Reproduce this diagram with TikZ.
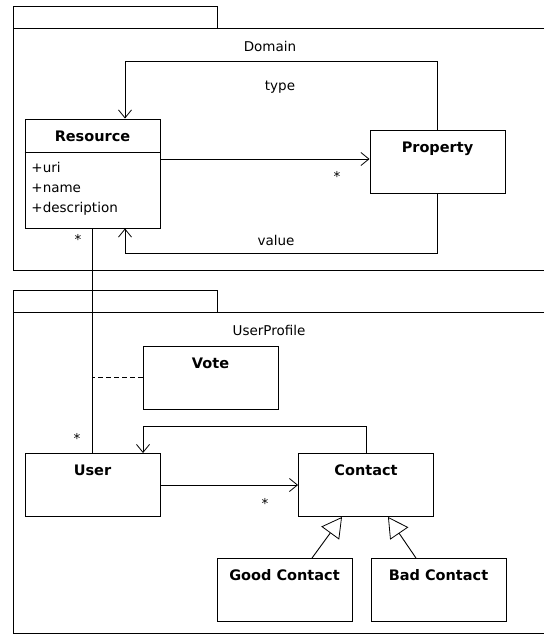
\documentclass[tikz,border=0pt]{standalone}
\usepackage{fontspec}
\setmainfont{DejaVu Sans}
\usetikzlibrary{arrows.meta}
\begin{document}
\begin{tikzpicture}[x=1pt, y=-1pt, line width=.9pt,
    >={Straight Barb[length=8pt, width=13pt, line width=.8pt]},
    txt/.style={font=\fontsize{13.5}{16}\selectfont, inner sep=0pt},
    cls/.style={draw, minimum width=135pt, minimum height=63pt, inner sep=0pt,
        label={[anchor=base, yshift=-22.5pt, font=\bfseries\fontsize{14.5}{17}\selectfont]north:#1}},
    isa/.style={-{Triangle[open, length=20pt, width=22pt, line width=.8pt]}}]
\useasboundingbox (0,0) rectangle (544,635);

% packages
\draw (13,28) |- (217,6) -- (217,28);
\draw (544,28) -- (13,28) -- (13,270) -- (544,270);
\node[txt] (domain) at (270,46) {Domain};
\draw (13,312) |- (217,290) -- (217,312);
\draw (544,312) -- (13,312) -- (13,633) -- (544,633);
\node[txt] (userprofile) at (269,330) {UserProfile};

% Domain classes
\node[cls=Resource, minimum height=109pt] (resource) at (92.5,173.5) {};
\draw ([yshift=-34pt]resource.north west) -- ([yshift=-34pt]resource.north east);
\node[txt, anchor=north west, align=left, font=\fontsize{13.5}{20}\selectfont] (attrs) at (31,162)
    {+uri\\+name\\+description};
\node[cls=Property] (property) at (437.5,161.5) {};

\draw[->] (property.north) -- ++(0,-68) -| ([xshift=32.5pt]resource.north);
\node[txt] (type) at (280,87) {type};
\draw[->] ([yshift=2.5pt]resource.east |- property.west) -- ([yshift=2.5pt]property.west);
\node[txt] (mult1) at (337,176) {*};
\draw[->] (property.south) -- ++(0,60) -| ([xshift=32.5pt]resource.south);
\node[txt] (value) at (276,240) {value};

% UserProfile classes
\node[cls=Vote] (vote) at (210.5,377.5) {};
\node[cls=User] (user) at (92.5,485) {};
\node[cls=Contact] (contact) at (366,485) {};
\node[cls=Good Contact] (goodcontact) at (284.5,590) {};
\node[cls=Bad Contact] (badcontact) at (438.5,590) {};

\draw (resource.south) -- (user.north);
\node[txt] (mult2) at (78,239) {*};
\node[txt] (mult3) at (77,438) {*};
\draw[dash pattern=on 5pt off 3pt] (vote.west) -- (vote.west -| user.north);

\draw[->] (contact.north) -- ++(0,-27) -| ([xshift=50.5pt]user.north);
\draw[->] (user.east) -- (contact.west);
\node[txt] (mult4) at (265,503) {*};

\draw[isa] ([xshift=27.5pt]goodcontact.north) -- ([xshift=-24pt]contact.south);
\draw[isa] ([xshift=-22.5pt]badcontact.north) -- ([xshift=22pt]contact.south);
\end{tikzpicture}
\end{document}
